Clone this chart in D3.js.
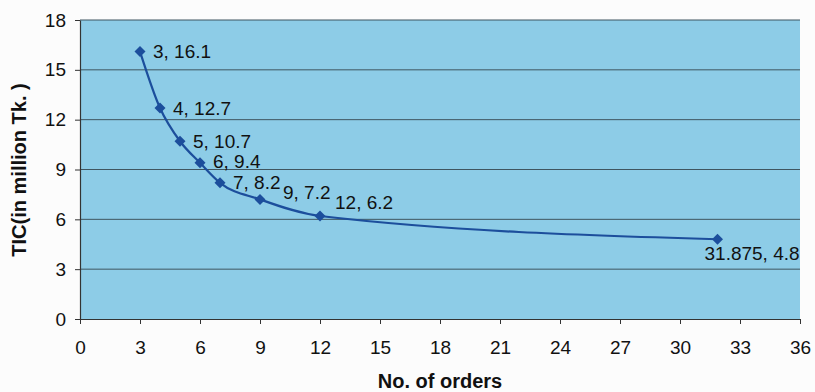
<!DOCTYPE html>
<html><head><meta charset="utf-8">
<script src="https://cdn.jsdelivr.net/npm/d3@7"></script>
<style>
html,body{margin:0;padding:0;background:#fcfcfc;}
svg{display:block;font-family:"Liberation Sans",Arial,sans-serif;}
</style></head>
<body>
<svg id="c" width="815" height="392"></svg>
<script>
const orders = [3, 4, 5, 6, 7, 9, 12, 31.875];
const tic = [16.1, 12.7, 10.7, 9.4, 8.2, 7.2, 6.2, 4.8];
const labels = ["3, 16.1", "4, 12.7", "5, 10.7", "6, 9.4", "7, 8.2", "9, 7.2", "12, 6.2", "31.875, 4.8"];
const labelDx = [13, 13, 13, 13, 13, 23, 15, -13];
const labelDy = [6, 7, 7, 5, 6, 0, -7, 21];
const xTicks = [0, 3, 6, 9, 12, 15, 18, 21, 24, 27, 30, 33, 36];
const yTicks = [0, 3, 6, 9, 12, 15, 18];

const svg = d3.select("#c");
const L = 80, R = 800, T = 20, B = 319;
const x = d3.scaleLinear().domain([0, 36]).range([L, R]);
const y = d3.scaleLinear().domain([0, 18]).range([B, T]);

svg.append("rect").attr("x", L).attr("y", T).attr("width", R - L).attr("height", B - T)
  .attr("fill", "#8dcce7");

// gridlines
svg.append("g").selectAll("line").data(yTicks.filter(d => d > 0)).join("line")
  .attr("x1", L).attr("x2", R).attr("y1", d => y(d)).attr("y2", d => y(d))
  .attr("stroke", "#3f5560").attr("stroke-width", 1);

// axes
const xAxis = svg.append("g").attr("transform", `translate(0,${B})`)
  .call(d3.axisBottom(x).tickValues(xTicks).tickSize(5).tickPadding(17).tickSizeOuter(0));
const yAxis = svg.append("g").attr("transform", `translate(${L},0)`)
  .call(d3.axisLeft(y).tickValues(yTicks).tickSize(5).tickPadding(9).tickSizeOuter(0));
[xAxis, yAxis].forEach(a => {
  a.select(".domain").attr("stroke", "#333").attr("stroke-width", 1.2);
  a.selectAll(".tick line").attr("stroke", "#333");
  a.selectAll("text").attr("font-size", 19).attr("fill", "#111")
    .attr("font-family", "'Liberation Sans', Arial, sans-serif");
});

// line
const pts = orders.map((o, i) => [o, tic[i]]);
svg.append("path").datum(pts)
  .attr("d", d3.line().x(d => x(d[0])).y(d => y(d[1])).curve(d3.curveMonotoneX))
  .attr("fill", "none").attr("stroke", "#1c4e9c").attr("stroke-width", 2.2);

// markers
svg.append("g").selectAll("path").data(pts).join("path")
  .attr("transform", d => `translate(${x(d[0])},${y(d[1])})`)
  .attr("d", "M0,-5.5L5.5,0L0,5.5L-5.5,0Z")
  .attr("fill", "#1c4e9c");

// data labels
svg.append("g").selectAll("text").data(pts).join("text")
  .attr("x", (d, i) => x(d[0]) + labelDx[i])
  .attr("y", (d, i) => y(d[1]) + labelDy[i])
  .attr("font-size", 19).attr("fill", "#111")
  .text((d, i) => labels[i]);

// axis titles
svg.append("text").attr("x", 440).attr("y", 388).attr("text-anchor", "middle")
  .attr("font-size", 20).attr("font-weight", "bold").attr("fill", "#111").text("No. of orders");
svg.append("text").attr("transform", "translate(26,170) rotate(-90)").attr("text-anchor", "middle")
  .attr("font-size", 20).attr("font-weight", "bold").attr("fill", "#111").text("TIC(in million Tk. )");
</script>
</body></html>
